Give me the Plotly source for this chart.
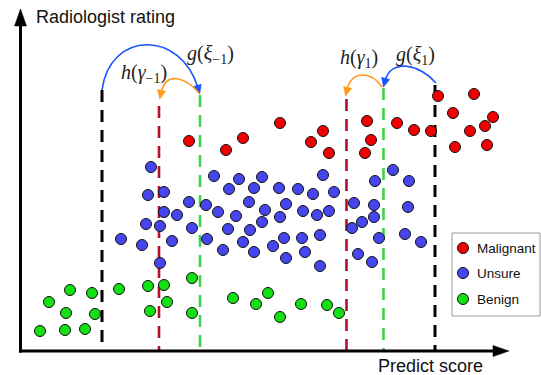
import plotly.graph_objects as go

# ---------------- data (x: predict score, y: rating position, top-down) ----------------
malignant_x = [189, 226, 243, 280, 311, 323, 329, 367, 371, 365, 397, 414, 431, 438, 453, 455, 470, 474, 485, 487, 493]
malignant_y = [141, 150, 138, 123, 142, 131, 153, 121, 140, 153, 123, 130, 131, 96, 113, 147, 131, 94, 126, 145, 117]

unsure_x = [151, 214, 239, 262, 229, 254, 279, 148, 164, 189, 206, 249, 265, 164, 177, 218, 236, 146, 160,
            192, 228, 250, 262, 280, 121, 142, 172, 207, 243, 223, 254, 273, 160,
            323, 393, 375, 409, 298, 313, 334, 286, 354, 374, 408, 303, 317, 329, 362, 374, 352,
            284, 302, 320, 379, 405, 421, 286, 305, 320, 358, 372]
unsure_y = [167, 176, 179, 177, 189, 188, 188, 195, 192, 202, 205, 202, 210, 212, 215, 212, 216, 224, 226,
            228, 229, 230, 222, 217, 239, 245, 241, 239, 242, 250, 252, 246, 263,
            175, 170, 181, 181, 189, 194, 192, 204, 203, 205, 207, 211, 215, 211, 222, 217, 228,
            238, 238, 235, 238, 234, 242, 258, 252, 266, 254, 262]

benign_x = [49, 70, 92, 66, 95, 40, 65, 85, 119, 148, 164, 192, 167, 150, 192, 233, 256, 268, 280, 301, 327, 339]
benign_y = [302, 290, 293, 313, 314, 331, 330, 329, 289, 286, 285, 278, 302, 311, 313, 298, 304, 293, 317, 304, 305, 313]

series_names = ["Malignant", "Unsure", "Benign"]
series_colors = ["#F20000", "#4646EE", "#12E012"]

# thresholds: (score, top of dashed line, colour)
threshold_x = [102, 159, 200, 346.5, 383.5, 435]
threshold_top = [90, 106, 95, 99, 88, 85]
threshold_colors = ["#000000", "#B0102A", "#3CD24A", "#B0102A", "#3CD24A", "#000000"]

labels = ["<i>g</i>(<i>ξ</i><sub>−1</sub>)", "<i>h</i>(<i>γ</i><sub>−1</sub>)",
          "<i>h</i>(<i>γ</i><sub>1</sub>)", "<i>g</i>(<i>ξ</i><sub>1</sub>)"]
label_x = [210, 144, 359, 415]
label_y = [54, 73, 58, 55]

AXIS_Y = 351
BLUE_ARC = "#1A55FF"
ORANGE_ARC = "#FF9B1A"

fig = go.Figure()

for name, xs, ys, col in zip(series_names,
                             [malignant_x, unsure_x, benign_x],
                             [malignant_y, unsure_y, benign_y],
                             series_colors):
    fig.add_trace(go.Scatter(x=xs, y=ys, mode="markers", name=name, showlegend=False,
                             marker=dict(size=11, color=col, line=dict(color="#111", width=1))))

shapes = []
# axes
shapes.append(dict(type="line", x0=20.5, x1=20.5, y0=AXIS_Y + 1.5, y1=24, xref="x", yref="y",
                   line=dict(color="black", width=3)))
shapes.append(dict(type="path", path="M 20.5 9 L 14.5 26 L 26.5 26 Z", xref="x", yref="y",
                   fillcolor="black", line=dict(color="black", width=0.5)))
shapes.append(dict(type="line", x0=19, x1=495, y0=AXIS_Y, y1=AXIS_Y, xref="x", yref="y",
                   line=dict(color="black", width=3)))
shapes.append(dict(type="path", path=f"M 509 {AXIS_Y} L 493 {AXIS_Y-5.5} L 493 {AXIS_Y+5.5} Z",
                   xref="x", yref="y", fillcolor="black", line=dict(color="black", width=0.5)))

# dashed threshold lines
for tx, tt, tc in zip(threshold_x, threshold_top, threshold_colors):
    shapes.append(dict(type="line", x0=tx, x1=tx, y0=tt, y1=AXIS_Y - 1, xref="x", yref="y",
                       layer="below",
                       line=dict(color=tc, width=3 if tc == "#000000" else 2.6, dash="12px,8px")))


def arc(p0, c1, c2, p1, color):
    shapes.append(dict(type="path", xref="x", yref="y",
                       path=f"M {p0[0]} {p0[1]} C {c1[0]} {c1[1]} {c2[0]} {c2[1]} {p1[0]} {p1[1]}",
                       line=dict(color=color, width=1.6)))
    # arrow head
    dx, dy = p1[0] - c2[0], p1[1] - c2[1]
    n = (dx * dx + dy * dy) ** 0.5
    ux, uy = dx / n, dy / n
    L, W = 9, 4.2
    bx, by = p1[0] - ux * L * 0.3, p1[1] - uy * L * 0.3
    tipx, tipy = p1[0] + ux * L * 0.7, p1[1] + uy * L * 0.7
    ax_, ay_ = bx - uy * W, by + ux * W
    cx_, cy_ = bx + uy * W, by - ux * W
    shapes.append(dict(type="path", xref="x", yref="y",
                       path=f"M {tipx} {tipy} L {ax_} {ay_} L {cx_} {cy_} Z",
                       fillcolor=color, line=dict(color=color, width=0.5)))


arc((102, 90), (110, 30), (181, 30), (198, 88), BLUE_ARC)
arc((199, 93), (186, 78), (166, 70), (161, 93), ORANGE_ARC)
arc((436, 83), (420, 64), (391, 58), (385, 81), BLUE_ARC)
arc((382, 87), (372, 72), (352, 69), (347, 90), ORANGE_ARC)

# legend box
shapes.append(dict(type="rect", x0=452, x1=540, y0=233, y1=316, xref="x", yref="y",
                   line=dict(color="#9a9a9a", width=1), fillcolor="white"))
legend_y = [248, 273, 299]
for ly, col in zip(legend_y, series_colors):
    shapes.append(dict(type="circle", x0=457.5, x1=468.5, y0=ly - 5.5, y1=ly + 5.5, xref="x", yref="y",
                       fillcolor=col, line=dict(color="#111", width=1)))

annotations = []
for ly, name in zip(legend_y, series_names):
    annotations.append(dict(x=475, y=ly, text=name, showarrow=False, xanchor="left", yanchor="middle",
                            font=dict(family="Liberation Sans, Arial", size=13.5, color="#111")))
for t, lx, ly in zip(labels, label_x, label_y):
    annotations.append(dict(x=lx, y=ly, text=t, showarrow=False, xanchor="center", yanchor="middle",
                            font=dict(family="Liberation Serif, Times New Roman, serif", size=20, color="#222")))
annotations.append(dict(x=34, y=17, text="Radiologist rating", showarrow=False, xanchor="left",
                        yanchor="middle", font=dict(family="Liberation Sans, Arial", size=18, color="#111")))
annotations.append(dict(x=376, y=366, text="Predict score", showarrow=False, xanchor="left",
                        yanchor="middle", font=dict(family="Liberation Sans, Arial", size=18, color="#111")))

fig.update_layout(
    width=541, height=375,
    margin=dict(l=0, r=0, t=0, b=0),
    paper_bgcolor="white", plot_bgcolor="white",
    xaxis=dict(range=[0, 541], visible=False, fixedrange=True),
    yaxis=dict(range=[375, 0], visible=False, fixedrange=True),
    shapes=shapes, annotations=annotations, showlegend=False,
)

fig.write_html("out.html", config={"displayModeBar": False},
               post_script="document.body.style.margin='0';document.body.style.overflow='hidden';")
